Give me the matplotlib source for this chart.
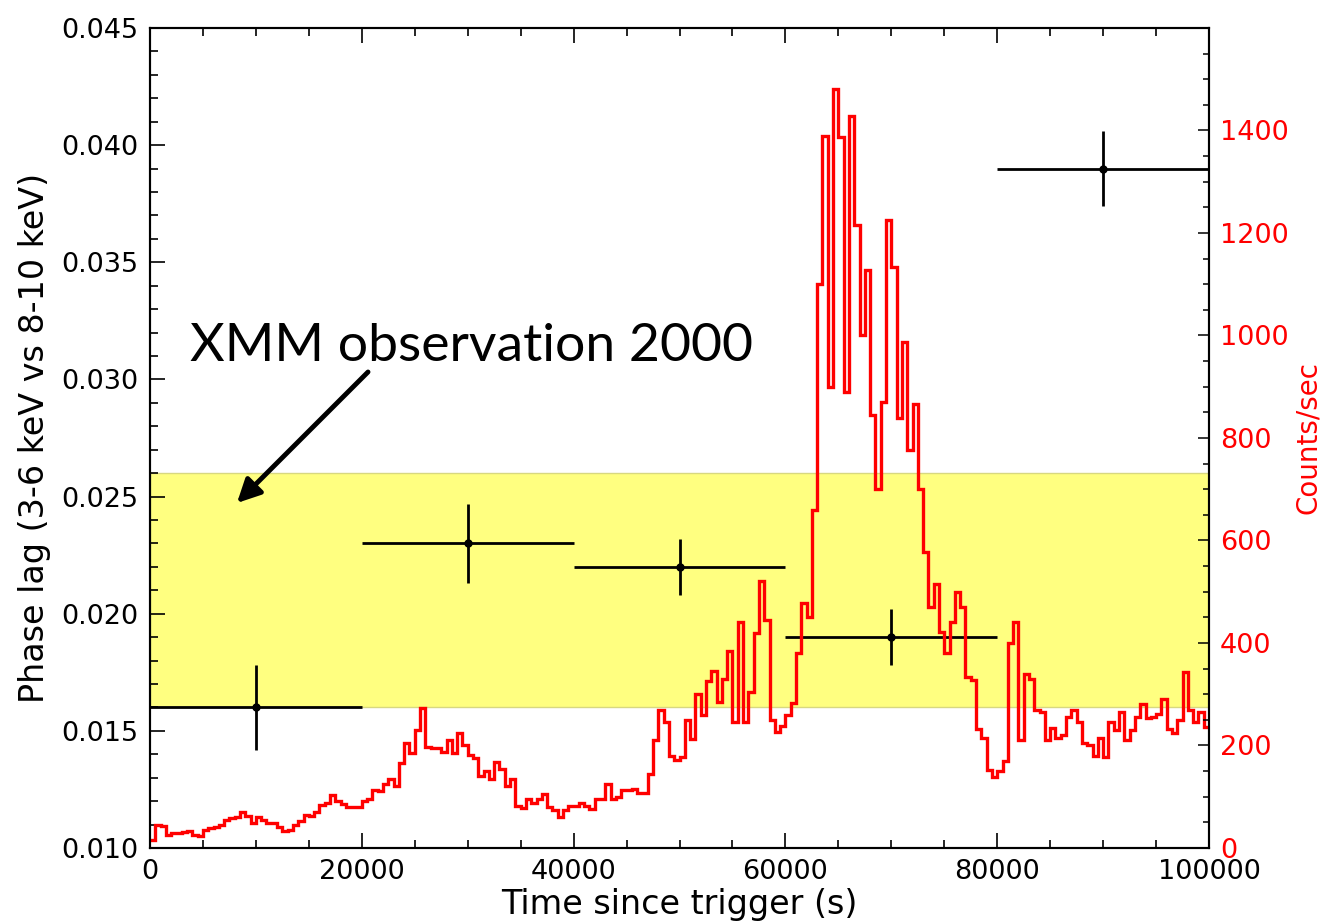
import numpy as np
import matplotlib
matplotlib.use("Agg")
import matplotlib.pyplot as plt
from matplotlib.ticker import MultipleLocator, FixedLocator, FormatStrFormatter

# phase lag per 20 ks segment (3-6 keV vs 8-10 keV)
lag_time = [10000, 30000, 50000, 70000, 90000]
lag_halfwidth = [10000, 10000, 10000, 10000, 10000]
lag = [0.016, 0.023, 0.022, 0.019, 0.039]
lag_err = [0.0018, 0.0017, 0.0012, 0.0012, 0.0016]

# 2000 XMM band
band_low, band_high = 0.016, 0.026

# light curve, 500 s bins from 0 to 100 ks
bin_width = 500
counts = [
    15, 45, 42, 25, 30, 30, 32, 34, 25, 23,
    35, 39, 40, 45, 55, 58, 60, 71, 62, 48,
    60, 55, 49, 49, 40, 34, 35, 45, 52, 64,
    62, 71, 84, 88, 103, 92, 85, 79, 80, 80,
    92, 95, 113, 112, 125, 134, 121, 166, 205, 185,
    230, 273, 197, 195, 195, 188, 210, 185, 225, 200,
    181, 175, 140, 150, 135, 168, 155, 120, 135, 82,
    78, 95, 88, 95, 105, 80, 75, 61, 75, 82,
    82, 87, 82, 76, 95, 95, 125, 96, 100, 113,
    113, 116, 107, 107, 145, 210, 270, 245, 180, 172,
    178, 250, 212, 300, 260, 325, 345, 285, 330, 385,
    246, 440, 246, 305, 420, 520, 445, 250, 226, 237,
    259, 283, 380, 478, 450, 660, 1100, 1390, 900, 1481,
    1387, 890, 1429, 1215, 1000, 1127, 844, 701, 870, 1225,
    1134, 838, 987, 776, 867, 700, 578, 470, 515, 422,
    380, 440, 500, 470, 333, 328, 233, 215, 152, 139,
    150, 170, 400, 440, 210, 340, 330, 270, 265, 210,
    235, 215, 220, 255, 270, 245, 205, 200, 180, 215,
    178, 245, 230, 265, 210, 230, 255, 280, 253, 255,
    262, 290, 232, 224, 250, 344, 270, 245, 265, 236,
]
count_ticks = [0, 200, 400, 600, 800, 1000, 1200, 1400]
edges = np.arange(len(counts) + 1) * bin_width

fig = plt.figure(figsize=(13.26, 9.23), dpi=100)
ax = fig.add_axes([0.1131, 0.0813, 0.7987, 0.8884])
ax2 = ax.twinx()

ax.axhspan(band_low, band_high, facecolor="#ffff80", edgecolor="#d8d880", lw=1, zorder=0)
ax.errorbar(lag_time, lag, xerr=lag_halfwidth, yerr=lag_err, fmt="o", color="black",
            ms=5, lw=2, capsize=0, zorder=3)

ax2.stairs(counts, edges, baseline=None, color="red", lw=2.4)

ax.set_xlim(0, 100000)
ax.set_ylim(0.010, 0.045)
ax2.set_ylim(0, 1600)

ax.xaxis.set_major_locator(MultipleLocator(20000))
ax.xaxis.set_minor_locator(MultipleLocator(5000))
ax.yaxis.set_major_locator(MultipleLocator(0.005))
ax.yaxis.set_minor_locator(MultipleLocator(0.001))
ax.yaxis.set_major_formatter(FormatStrFormatter("%.3f"))
ax2.yaxis.set_major_locator(FixedLocator(count_ticks))
ax2.yaxis.set_minor_locator(MultipleLocator(50))

ax.tick_params(axis="both", which="both", direction="in", top=True, right=False,
               labelsize=19.5, width=1.2, pad=8)
ax.tick_params(which="major", length=11)
ax.tick_params(which="minor", length=6)
ax2.tick_params(axis="y", which="both", direction="in", labelsize=19.5,
                labelcolor="red", width=1.1, pad=8)
ax2.tick_params(which="major", length=8)
ax2.tick_params(which="minor", length=4)

for a in (ax, ax2):
    for s in a.spines.values():
        s.set_linewidth(1.5)

ax.set_xlabel("Time since trigger (s)", fontsize=24, labelpad=2)
ax.set_ylabel("Phase lag (3-6 keV vs 8-10 keV)", fontsize=24, labelpad=8)
ax2.set_ylabel("Counts/sec", fontsize=20, color="red", labelpad=4)

ax.annotate("", xy=(8026, 0.02464), xytext=(20774, 0.0304),
            arrowprops=dict(arrowstyle="-|>", lw=3.5, color="black", mutation_scale=35))
ax.text(3777, 0.0308, "XMM observation 2000", fontsize=38.5, family="Lato",
        ha="left", va="baseline")

fig.savefig("out.png", dpi=100)
